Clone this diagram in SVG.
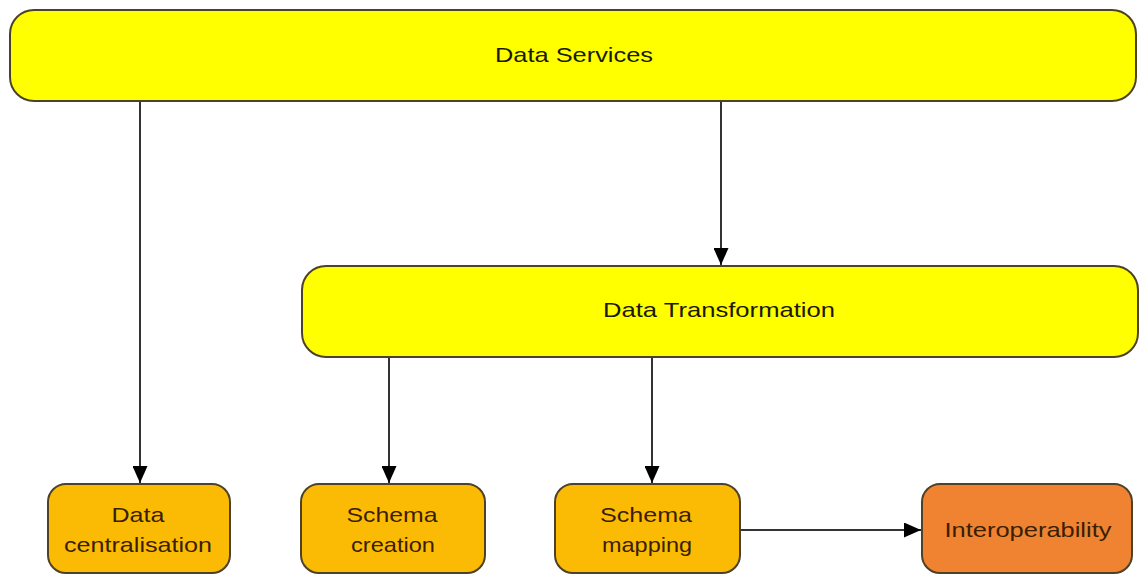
<svg xmlns="http://www.w3.org/2000/svg" width="1141" height="574" viewBox="0 0 1141 574">
<defs>
<marker id="arr" markerWidth="17" markerHeight="15" refX="17" refY="7.5" orient="auto" markerUnits="userSpaceOnUse">
<path d="M0,0 L17,7.5 L0,15 Z" fill="#000"/>
</marker>
<style>
.box{stroke:#4d4228;stroke-width:2}
.yel{fill:#ffff00}
.org{fill:#fbbb05}
.red{fill:#ef8331}
.t{font-family:"Liberation Sans",Arial,sans-serif;font-size:21px;text-anchor:middle}
.tk{fill:#1a1a00}
.tb{fill:#3a1e00}
.c{stroke:#333;stroke-width:2;fill:none;marker-end:url(#arr)}
</style>
</defs>
<rect width="1141" height="574" fill="#fff"/>
<g id="connectors">
<line class="c" x1="140" y1="101" x2="140" y2="483"/>
<line class="c" x1="721" y1="101" x2="721" y2="265"/>
<line class="c" x1="389" y1="357" x2="389" y2="483"/>
<line class="c" x1="652" y1="357" x2="652" y2="483"/>
<line class="c" x1="740" y1="530" x2="921" y2="530"/>
</g>
<g id="data-services">
<rect class="box yel" x="10" y="10" width="1126" height="91" rx="24"/>
<text class="t tk" x="574" y="62" textLength="158" lengthAdjust="spacingAndGlyphs">Data Services</text>
</g>
<g id="data-transformation">
<rect class="box yel" x="302" y="266" width="836" height="91" rx="24"/>
<text class="t tk" x="719" y="317" textLength="232" lengthAdjust="spacingAndGlyphs">Data Transformation</text>
</g>
<g id="data-centralisation">
<rect class="box org" x="48" y="484" width="182" height="89" rx="18"/>
<text class="t tb" x="138" y="522" textLength="53" lengthAdjust="spacingAndGlyphs">Data</text>
<text class="t tb" x="138" y="552" textLength="148" lengthAdjust="spacingAndGlyphs">centralisation</text>
</g>
<g id="schema-creation">
<rect class="box org" x="301" y="484" width="184" height="89" rx="18"/>
<text class="t tb" x="392" y="522" textLength="91" lengthAdjust="spacingAndGlyphs">Schema</text>
<text class="t tb" x="393" y="552" textLength="84" lengthAdjust="spacingAndGlyphs">creation</text>
</g>
<g id="schema-mapping">
<rect class="box org" x="555" y="484" width="185" height="89" rx="18"/>
<text class="t tb" x="646" y="522" textLength="92" lengthAdjust="spacingAndGlyphs">Schema</text>
<text class="t tb" x="647" y="552" textLength="90" lengthAdjust="spacingAndGlyphs">mapping</text>
</g>
<g id="interoperability">
<rect class="box red" x="922" y="484" width="210" height="89" rx="18"/>
<text class="t tb" x="1028" y="537" textLength="167" lengthAdjust="spacingAndGlyphs">Interoperability</text>
</g>
</svg>
